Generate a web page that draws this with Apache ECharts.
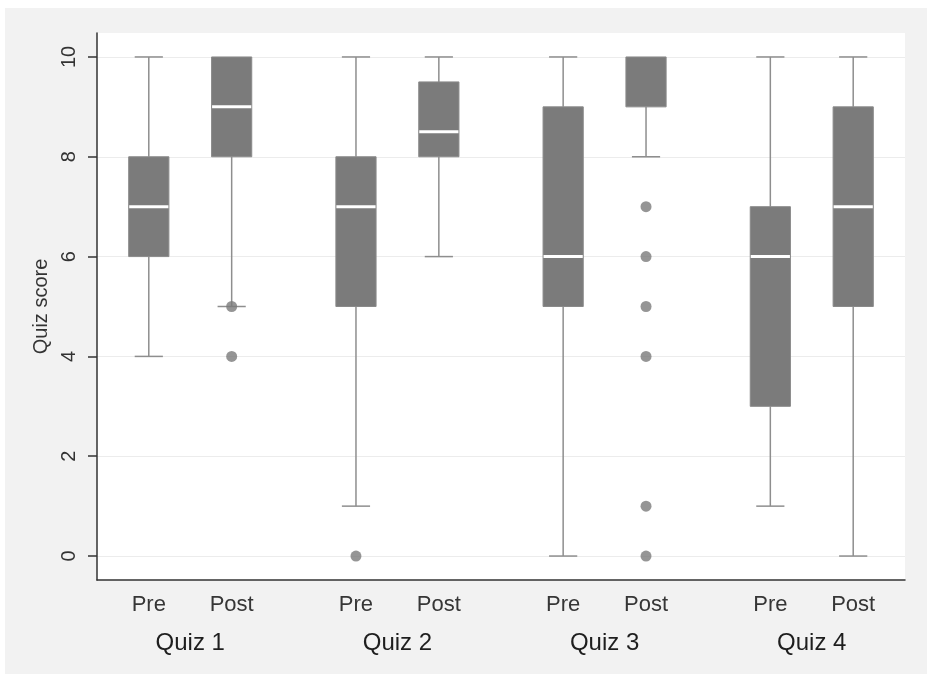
<!DOCTYPE html>
<html>
<head>
<meta charset="utf-8">
<script src="https://cdn.jsdelivr.net/npm/echarts@6/dist/echarts.min.js"></script>
<style>
  html, body { margin: 0; padding: 0; background: #ffffff; }
  #wrap { position: relative; width: 927px; height: 675px; background: #ffffff; }
  #chart { position: absolute; left: 5px; top: 8px; width: 922px; height: 666px; background: #f2f2f2; }
</style>
</head>
<body>
<div id="wrap"><div id="chart"></div></div>
<script>
// ---- data ----
const groups = ['Quiz 1', 'Quiz 2', 'Quiz 3', 'Quiz 4'];
const phases = ['Pre', 'Post'];
// x positions on a numeric scale (Pre/Post inside a quiz are 2 apart, quizzes 5 apart)
const boxX       = [0, 2, 5, 7, 10, 12, 15, 17];
const groupX     = [1, 6, 11, 16];
const boxLabels  = ['Pre', 'Post', 'Pre', 'Post', 'Pre', 'Post', 'Pre', 'Post'];
// [lower whisker, Q1, median, Q3, upper whisker]
const lowerWhisker = [4, 5, 1, 6, 0, 8, 1, 0];
const q1Values     = [6, 8, 5, 8, 5, 9, 3, 5];
const medianValues = [7, 9, 7, 8.5, 6, 10, 6, 7];
const q3Values     = [8, 10, 8, 9.5, 9, 10, 7, 9];
const upperWhisker = [10, 10, 10, 10, 10, 10, 10, 10];
// outliers: [box index, value]
const outlierBox   = [1, 1, 2, 5, 5, 5, 5, 5, 5];
const outlierValue = [5, 4, 0, 7, 6, 5, 4, 1, 0];
const yTicks = [0, 2, 4, 6, 8, 10];

const boxData = boxX.map((x, i) => [x, lowerWhisker[i], q1Values[i], medianValues[i], q3Values[i], upperWhisker[i]]);
const outData = outlierBox.map((b, i) => [boxX[b], outlierValue[i]]);

const boxFill = '#7b7b7b';
const whiskerColor = '#8e8e8e';

const chart = echarts.init(document.getElementById('chart'), null, { renderer: 'canvas' });

chart.setOption({
  animation: false,
  backgroundColor: '#f2f2f2',
  textStyle: { fontFamily: 'Liberation Sans, Arial, sans-serif' },
  grid: {
    left: 92, right: 22, top: 25, bottom: 94,
    show: true, backgroundColor: '#ffffff', borderWidth: 0
  },
  xAxis: [
    {
      type: 'value', min: -1.25, max: 18.25,
      axisLine: { show: true, onZero: false, lineStyle: { color: '#333333', width: 1.5 } },
      axisTick: { show: false },
      splitLine: { show: false },
      axisLabel: {
        customValues: boxX,
        formatter: v => boxLabels[boxX.indexOf(v)] || '',
        fontSize: 22, color: '#363636', margin: 14
      }
    },
    {
      type: 'value', min: -1.25, max: 18.25, position: 'bottom', offset: 39,
      axisLine: { show: false, onZero: false },
      axisTick: { show: false },
      splitLine: { show: false },
      axisLabel: {
        customValues: groupX,
        formatter: v => groups[groupX.indexOf(v)] || '',
        fontSize: 24, color: '#1e1e1e', margin: 12
      }
    }
  ],
  yAxis: {
    type: 'value', min: -0.48, max: 10.48,
    name: 'Quiz score', nameLocation: 'middle', nameRotate: 90, nameGap: 44,
    nameTextStyle: { fontSize: 20, color: '#333333' },
    axisLine: { show: true, onZero: false, lineStyle: { color: '#333333', width: 1.5 } },
    axisTick: { show: true, inside: false, length: 9, customValues: yTicks, lineStyle: { color: '#333333', width: 1.5 } },
    axisLabel: { customValues: yTicks, rotate: 90, fontSize: 20, color: '#333333', margin: 18 },
    splitLine: { show: true, lineStyle: { color: '#ececec', width: 1 } }
  },
  series: [
    {
      type: 'custom',
      xAxisIndex: 0,
      data: boxData,
      encode: { x: 0, y: [1, 2, 3, 4, 5] },
      renderItem: function (params, api) {
        const x = api.value(0);
        const lw = api.value(1), q1 = api.value(2), med = api.value(3), q3 = api.value(4), uw = api.value(5);
        const boxW = api.size([0.97, 0])[0];
        const capW = api.size([0.68, 0])[0];
        const pLw = api.coord([x, lw]);
        const pQ1 = api.coord([x, q1]);
        const pMed = api.coord([x, med]);
        const pQ3 = api.coord([x, q3]);
        const pUw = api.coord([x, uw]);
        const cx = pQ1[0];
        const children = [];
        const wStyle = { stroke: whiskerColor, lineWidth: 1.5 };
        if (lw < q1) {
          children.push({ type: 'line', shape: { x1: cx, y1: pQ1[1], x2: cx, y2: pLw[1] }, style: wStyle });
          children.push({ type: 'line', shape: { x1: cx - capW / 2, y1: pLw[1], x2: cx + capW / 2, y2: pLw[1] }, style: wStyle });
        }
        if (uw > q3) {
          children.push({ type: 'line', shape: { x1: cx, y1: pQ3[1], x2: cx, y2: pUw[1] }, style: wStyle });
          children.push({ type: 'line', shape: { x1: cx - capW / 2, y1: pUw[1], x2: cx + capW / 2, y2: pUw[1] }, style: wStyle });
        }
        children.push({
          type: 'rect',
          shape: { x: cx - boxW / 2, y: pQ3[1], width: boxW, height: pQ1[1] - pQ3[1] },
          style: { fill: boxFill, stroke: '#8a8a8a', lineWidth: 1 }
        });
        if (med < q3) {
          children.push({ type: 'line', shape: { x1: cx - boxW / 2 + 0.5, y1: pMed[1], x2: cx + boxW / 2 - 0.5, y2: pMed[1] }, style: { stroke: '#ffffff', lineWidth: 3 } });
        }
        return { type: 'group', children: children };
      },
      z: 3
    },
    {
      type: 'scatter',
      xAxisIndex: 0,
      data: outData,
      symbol: 'circle',
      symbolSize: 11,
      itemStyle: { color: '#7b7b7b' },
      z: 4
    }
  ]
});
</script>
</body>
</html>
